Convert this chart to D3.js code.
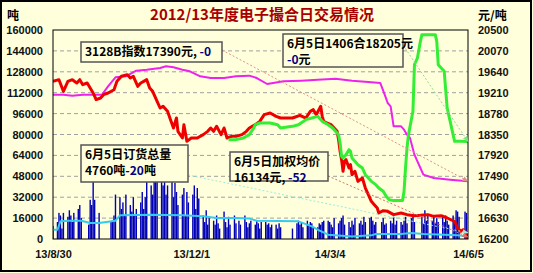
<!DOCTYPE html>
<html>
<head>
<meta charset="utf-8">
<script src="https://cdn.jsdelivr.net/npm/d3@7/dist/d3.min.js"></script>
<style>
  body { margin: 0; background: #fff; }
  svg { display: block; }
</style>
</head>
<body>
<svg width="533" height="273"></svg>
<script>
// ---- data ----
var title = "2012/13年度电子撮合日交易情况";
var holidays = ["2013-09-19", "2013-09-20", "2013-10-01", "2013-10-02", "2013-10-03", "2013-10-04",
  "2013-10-07", "2014-01-01", "2014-01-31", "2014-02-03", "2014-02-04", "2014-02-05", "2014-02-06",
  "2014-04-07", "2014-05-01", "2014-05-02", "2014-06-02"];

var volTicks = [0, 16000, 32000, 48000, 64000, 80000, 96000, 112000, 128000, 144000, 160000];
var priceTicks = [16200, 16630, 17060, 17490, 17920, 18350, 18780, 19210, 19640, 20070, 20500];
var dateTicks = ["2013-08-30", "2013-12-01", "2014-03-04", "2014-06-05"];
var dateTickLabels = ["13/8/30", "13/12/1", "14/3/4", "14/6/5"];

// daily volume, thousand tonnes, one per trading day
var volume = [
  10,
  13, 20, 18, 8, 20, 17, 22, 18, 13, 20, 23, 26, 16, 11, 30, 26, 48, 30, 20,          // Sep
  13, 14, 18, 34, 32, 23, 28, 18, 34, 26, 21, 32, 18, 23, 28, 36, 23, 32,              // Oct
  49, 41, 34, 45, 48, 44, 49, 41, 45, 34, 41, 44, 32, 43, 36, 26, 34, 39, 18, 36, 28,  // Nov
  34, 41, 23, 39, 31, 18, 13, 22, 11, 16, 14, 11, 18, 12, 8, 21, 13, 9, 17, 11, 18, 12, // Dec
  14, 11, 18, 13, 9, 12, 14, 11, 14, 12, 8, 13, 13, 11, 12, 9, 11, 11, 8, 12, 9,       // Jan
  8, 12, 14, 11, 13, 9, 14, 11, 13, 12, 9, 9, 12, 11, 13, 14,                          // Feb
  14, 13, 11, 9, 16, 12, 14, 16, 18, 11, 13, 9, 14, 11, 16, 12, 14, 11, 17, 13, 16,    // Mar
  17, 14, 11, 13, 13, 16, 11, 12, 14, 12, 17, 11, 14, 13, 11, 14, 17, 12, 16, 18, 13,  // Apr
  17, 12, 22, 14, 18, 14, 18, 12, 16, 13, 17, 13, 18, 14, 11, 18, 14, 22, 21, 17,      // May
  21, 20, 4.76                                                                          // Jun
];

// volume moving average (tonnes)
var volumeAvg = [["2013-08-30", 7100], ["2013-09-02", 7100], ["2013-09-04", 13500], ["2013-09-10", 14000],
  ["2013-09-18", 14000], ["2013-09-24", 12250], ["2013-09-30", 12250], ["2013-10-11", 14000],
  ["2013-10-14", 18100], ["2013-11-04", 18600], ["2013-11-25", 18100], ["2013-12-09", 17400],
  ["2013-12-18", 16100], ["2013-12-31", 16100], ["2014-01-09", 15600], ["2014-01-14", 14000],
  ["2014-02-11", 13500], ["2014-02-20", 9700], ["2014-02-24", 7100], ["2014-03-03", 3300],
  ["2014-03-19", 2000], ["2014-04-01", 2800], ["2014-04-04", 3800], ["2014-04-21", 3800],
  ["2014-04-28", 4600], ["2014-05-06", 3800], ["2014-05-20", 3300], ["2014-05-29", 2800],
  ["2014-06-05", 2000]];

// weighted average price (yuan/t)
var avgPrice = [["2013-08-30", 19444], ["2013-09-03", 19478], ["2013-09-06", 19238], ["2013-09-09", 19444],
  ["2013-09-12", 19478], ["2013-09-15", 19410], ["2013-09-17", 19478], ["2013-09-19", 19375],
  ["2013-09-22", 19410], ["2013-09-24", 19307], ["2013-09-26", 19204], ["2013-09-28", 19067],
  ["2013-10-01", 19101], ["2013-10-03", 19170], ["2013-10-06", 19204], ["2013-10-10", 19272],
  ["2013-10-12", 19444], ["2013-10-15", 19547], ["2013-10-19", 19581], ["2013-10-21", 19512],
  ["2013-10-23", 19547], ["2013-10-26", 19341], ["2013-10-28", 19410], ["2013-10-30", 19444],
  ["2013-11-01", 19478], ["2013-11-03", 19307], ["2013-11-05", 19238], ["2013-11-08", 19032],
  ["2013-11-10", 18895], ["2013-11-12", 18930], ["2013-11-15", 18827], ["2013-11-17", 18655],
  ["2013-11-19", 18484], ["2013-11-21", 18689], ["2013-11-22", 18415], ["2013-11-25", 18278],
  ["2013-11-26", 18552], ["2013-11-28", 18209], ["2013-12-01", 18278], ["2013-12-05", 18278],
  ["2013-12-09", 18347], ["2013-12-12", 18415], ["2013-12-14", 18484], ["2013-12-16", 18415],
  ["2013-12-18", 18518], ["2013-12-21", 18347], ["2013-12-23", 18484], ["2013-12-25", 18278],
  ["2013-12-28", 18312], ["2013-12-31", 18312], ["2014-01-04", 18347], ["2014-01-07", 18415],
  ["2014-01-09", 18484], ["2014-01-13", 18552], ["2014-01-16", 18621], ["2014-01-19", 18758],
  ["2014-01-23", 18792], ["2014-01-27", 18724], ["2014-01-30", 18689], ["2014-02-07", 18689],
  ["2014-02-12", 18744], ["2014-02-16", 18689], ["2014-02-19", 18827], ["2014-02-21", 18861],
  ["2014-02-23", 18758], ["2014-02-26", 18930], ["2014-02-27", 18724], ["2014-02-28", 18621],
  ["2014-03-02", 18587], ["2014-03-05", 18552], ["2014-03-09", 18415], ["2014-03-10", 18244],
  ["2014-03-11", 18004], ["2014-03-12", 17832], ["2014-03-13", 17592], ["2014-03-14", 17798],
  ["2014-03-15", 17832], ["2014-03-17", 17661], ["2014-03-18", 17729], ["2014-03-19", 17524],
  ["2014-03-21", 17592], ["2014-03-23", 17386], ["2014-03-26", 17455], ["2014-03-28", 17249],
  ["2014-03-30", 17112], ["2014-04-01", 16975], ["2014-04-03", 16906], ["2014-04-05", 16838],
  ["2014-04-06", 16735], ["2014-04-09", 16783], ["2014-04-12", 16769], ["2014-04-16", 16701],
  ["2014-04-21", 16735], ["2014-04-25", 16701], ["2014-04-30", 16680], ["2014-05-04", 16687],
  ["2014-05-09", 16701], ["2014-05-13", 16666], ["2014-05-18", 16680], ["2014-05-22", 16632],
  ["2014-05-27", 16564], ["2014-05-29", 16426], ["2014-05-31", 16358], ["2014-06-02", 16392],
  ["2014-06-04", 16323], ["2014-06-05", 16134]];

// contract 1406 price
var c1406 = [["2013-12-26", 18244], ["2013-12-31", 18244], ["2014-01-05", 18278], ["2014-01-09", 18347],
  ["2014-01-12", 18484], ["2014-01-13", 18552], ["2014-01-16", 18587], ["2014-01-23", 18587],
  ["2014-01-28", 18552], ["2014-01-30", 18484], ["2014-02-07", 18518], ["2014-02-11", 18552],
  ["2014-02-16", 18655], ["2014-02-20", 18689], ["2014-02-24", 18724], ["2014-02-25", 18689],
  ["2014-02-27", 18621], ["2014-03-03", 18552], ["2014-03-06", 18484], ["2014-03-07", 18450],
  ["2014-03-10", 18347], ["2014-03-11", 18175], ["2014-03-12", 17901], ["2014-03-13", 17866],
  ["2014-03-15", 17935], ["2014-03-17", 18038], ["2014-03-18", 18004], ["2014-03-19", 17866],
  ["2014-03-21", 17798], ["2014-03-23", 17729], ["2014-03-26", 17661], ["2014-03-28", 17524],
  ["2014-03-30", 17455], ["2014-04-01", 17386], ["2014-04-04", 17318], ["2014-04-06", 17249],
  ["2014-04-09", 17181], ["2014-04-11", 17078], ["2014-04-13", 17009], ["2014-04-16", 16990],
  ["2014-04-22", 16990], ["2014-04-23", 17181], ["2014-04-24", 17661], ["2014-04-25", 18073],
  ["2014-04-26", 18347], ["2014-04-29", 18827], ["2014-04-30", 19787], ["2014-05-02", 19924],
  ["2014-05-04", 20267], ["2014-05-05", 20404], ["2014-05-14", 20404], ["2014-05-15", 20267],
  ["2014-05-16", 19787], ["2014-05-20", 19650], ["2014-05-22", 18895], ["2014-05-24", 18621],
  ["2014-05-27", 18209], ["2014-05-31", 18209], ["2014-06-05", 18205]];

// index price
var indexPrice = [["2013-08-30", 19170], ["2013-09-06", 19170], ["2013-09-12", 19149], ["2013-09-19", 19170],
  ["2013-09-26", 19170], ["2013-10-02", 19170], ["2013-10-06", 19341], ["2013-10-11", 19526],
  ["2013-10-18", 19547], ["2013-10-25", 19664], ["2013-11-01", 19684], ["2013-11-10", 19718],
  ["2013-11-14", 19753], ["2013-11-19", 19732], ["2013-11-25", 19684], ["2013-11-30", 19650],
  ["2013-12-07", 19547], ["2013-12-14", 19512], ["2013-12-23", 19512], ["2013-12-31", 19547],
  ["2014-01-09", 19561], ["2014-01-14", 19512], ["2014-01-21", 19389], ["2014-02-01", 19444],
  ["2014-02-13", 19458], ["2014-02-24", 19478], ["2014-03-08", 19499], ["2014-03-19", 19458],
  ["2014-03-30", 19430], ["2014-04-07", 19410], ["2014-04-10", 19170], ["2014-04-12", 18998],
  ["2014-04-14", 18930], ["2014-04-16", 18518], ["2014-04-21", 18518], ["2014-04-23", 18450],
  ["2014-04-25", 18347], ["2014-04-27", 18278], ["2014-04-30", 17935], ["2014-05-02", 17798],
  ["2014-05-04", 17661], ["2014-05-06", 17524], ["2014-05-13", 17455], ["2014-05-24", 17421],
  ["2014-06-05", 17390]];

// ---- chart ----
var svg = d3.select("svg"),
    width = +svg.attr("width"),
    height = +svg.attr("height");

var bg = "#ffffdc";
var pL = 53, pR = 468, pT = 30, pB = 239;

svg.append("rect").attr("width", width).attr("height", height).attr("fill", bg);
svg.append("rect").attr("x", 1).attr("y", 1).attr("width", width - 3).attr("height", height - 3)
    .attr("fill", "none").attr("stroke", "#000").attr("stroke-width", 2);

var parse = d3.timeParse("%Y-%m-%d");
var x = d3.scaleTime().domain([parse("2013-08-30"), parse("2014-06-05")]).range([pL, pR]);
var yVol = d3.scaleLinear().domain([0, 160000]).range([pB, pT]);
var yPrice = d3.scaleLinear().domain([16200, 20500]).range([pB, pT]);

// trading days
var hol = new Set(holidays);
var fmt = d3.timeFormat("%Y-%m-%d");
var days = d3.timeDay.range(parse("2013-08-30"), d3.timeDay.offset(parse("2014-06-05"), 1))
  .filter(function(d) { return d.getDay() > 0 && d.getDay() < 6 && !hol.has(fmt(d)); });

// gridlines
svg.append("g").selectAll("line")
  .data(volTicks.slice(1, -1))
  .enter().append("line")
  .attr("x1", pL).attr("x2", pR)
  .attr("y1", function(d) { return yVol(d); })
  .attr("y2", function(d) { return yVol(d); })
  .attr("stroke", "#a0a0a0").attr("stroke-dasharray", "4,3");

svg.append("clipPath").attr("id", "clip").append("rect")
  .attr("x", pL).attr("y", pT).attr("width", pR - pL).attr("height", pB - pT);
var plot = svg.append("g").attr("clip-path", "url(#clip)");

// volume bars
plot.selectAll(".bar")
  .data(days)
  .enter().append("rect")
  .attr("class", "bar")
  .attr("x", function(d) { return x(d) - 0.7; })
  .attr("width", 1.4)
  .attr("y", function(d, i) { return yVol(volume[i] * 1000); })
  .attr("height", function(d, i) { return pB - yVol(volume[i] * 1000); })
  .attr("fill", "#0000b8");

function drawLine(data, yScale, color, w) {
  var line = d3.line()
    .x(function(d) { return x(parse(d[0])); })
    .y(function(d) { return yScale(d[1]); });
  plot.append("path").datum(data)
    .attr("d", line)
    .attr("fill", "none")
    .attr("stroke", color)
    .attr("stroke-width", w)
    .attr("stroke-linejoin", "round");
}

drawLine(volumeAvg, yVol, "#33ccee", 2);
drawLine(indexPrice, yPrice, "#ee22ee", 2);
drawLine(avgPrice, yPrice, "#ee0000", 3);
drawLine(c1406, yPrice, "#33ee33", 3);

// frame
svg.append("rect").attr("x", pL).attr("y", pT).attr("width", pR - pL).attr("height", pB - pT)
  .attr("fill", "none").attr("stroke", "#000").attr("stroke-width", 1);

// axes
var numFont = "'Liberation Sans', Arial, sans-serif";
var cjkFont = "'Noto Sans CJK SC', sans-serif";

var axL = svg.append("g").attr("transform", "translate(" + pL + ",0)")
  .call(d3.axisLeft(yVol).tickValues(volTicks).tickSize(0).tickPadding(10).tickFormat(d3.format("d")));
var axR = svg.append("g").attr("transform", "translate(" + pR + ",0)")
  .call(d3.axisRight(yPrice).tickValues(priceTicks).tickSize(0).tickPadding(10).tickFormat(d3.format("d")));
var axB = svg.append("g").attr("transform", "translate(0," + pB + ")")
  .call(d3.axisBottom(x).tickValues(dateTicks.map(parse)).tickSize(0).tickPadding(11)
    .tickFormat(function(d, i) { return dateTickLabels[i]; }));

[axL, axR, axB].forEach(function(a) {
  a.select(".domain").remove();
  a.selectAll("text").attr("font-family", numFont).attr("font-weight", "bold")
    .attr("font-size", "11px").attr("fill", "#111");
});

// titles
svg.append("text").attr("x", 262).attr("y", 20).attr("text-anchor", "middle")
  .attr("font-family", cjkFont).attr("font-weight", "bold").attr("font-size", "15px")
  .attr("fill", "#a80000").text(title);
svg.append("text").attr("x", 7).attr("y", 20)
  .attr("font-family", cjkFont).attr("font-weight", "bold").attr("font-size", "12px").text("吨");
svg.append("text").attr("x", 478).attr("y", 20)
  .attr("font-family", cjkFont).attr("font-weight", "bold").attr("font-size", "12px").text("元/吨");

// callouts
var last = days[days.length - 1];
var callouts = [
  { box: [81, 42, 141, 20], lines: [[["3128B指数17390元, ", "#000"], ["-0", "#000080"]]],
    from: [222, 50], to: [x(last), yPrice(17390)], color: "#e09090" },
  { box: [283, 34, 120, 33], lines: [[["6月5日1406合18205元", "#000"]], [["-0", "#000080"], ["元", "#000"]]],
    from: [403, 45], to: [x(last), yPrice(18205)], color: "#88e088" },
  { box: [81, 145, 107, 37], lines: [[["6月5日订货总量", "#000"]], [["4760吨", "#000"], ["-20", "#000080"], ["吨", "#000"]]],
    from: [188, 175], to: [x(last), yVol(4760)], color: "#99eedd" },
  { box: [230, 152, 98, 29], lines: [[["6月5日加权均价", "#000"]], [["16134元, ", "#000"], ["-52", "#000080"]]],
    from: [328, 176], to: [x(last), pB - 2], color: "#e07070" }
];

var defs = svg.append("defs");
callouts.forEach(function(c, i) {
  defs.append("marker").attr("id", "arr" + i)
    .attr("viewBox", "0 0 10 10").attr("refX", 9).attr("refY", 5)
    .attr("markerWidth", 6).attr("markerHeight", 6).attr("orient", "auto")
    .append("path").attr("d", "M0,1L10,5L0,9z").attr("fill", c.color);
  svg.append("line").attr("x1", c.from[0]).attr("y1", c.from[1])
    .attr("x2", c.to[0]).attr("y2", c.to[1])
    .attr("stroke", c.color).attr("stroke-width", 1).attr("stroke-dasharray", "2,2")
    .attr("marker-end", "url(#arr" + i + ")");
});

callouts.forEach(function(c) {
  var g = svg.append("g");
  g.append("rect").attr("x", c.box[0]).attr("y", c.box[1]).attr("width", c.box[2]).attr("height", c.box[3])
    .attr("fill", bg).attr("stroke", "#555").attr("stroke-width", 1.5);
  var lh = c.lines.length > 1 ? 16 : 14;
  c.lines.forEach(function(parts, i) {
    var t = g.append("text").attr("x", c.box[0] + 4).attr("y", c.box[1] + 14 + i * lh)
      .attr("font-family", cjkFont).attr("font-weight", "bold").attr("font-size", "12px");
    parts.forEach(function(p) { t.append("tspan").attr("fill", p[1]).text(p[0]); });
  });
});
</script>
</body>
</html>
